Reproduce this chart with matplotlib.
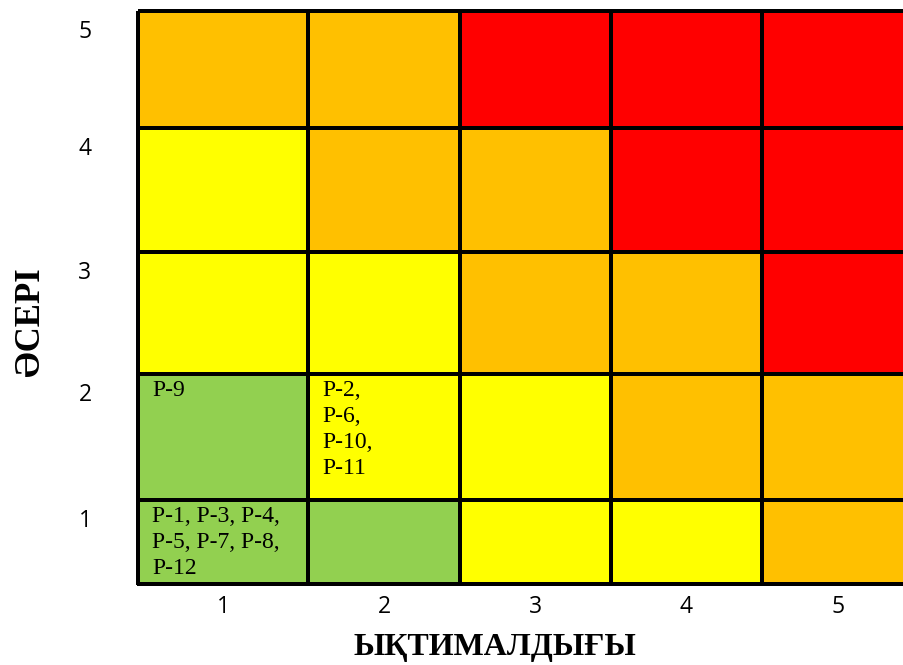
import numpy as np
import matplotlib.pyplot as plt
from matplotlib.colors import ListedColormap

# risk matrix: rows are impact 5..1 (top to bottom), columns likelihood 1..5
likelihood = [1, 2, 3, 4, 5]
impact = [5, 4, 3, 2, 1]
risk_level = [
    [3, 3, 4, 4, 4],
    [2, 3, 3, 4, 4],
    [2, 2, 3, 3, 4],
    [1, 2, 2, 3, 3],
    [1, 1, 2, 2, 3],
]
level_colors = ["#92D050", "#FFFF00", "#FFC000", "#FF0000"]

# risks placed in cells: (likelihood, impact, text)
cell_likelihood = [1, 2, 1]
cell_impact = [2, 2, 1]
cell_text = ["P-9", "P-2,\nP-6,\nP-10,\nP-11", "P-1, P-3, P-4,\nP-5, P-7, P-8,\nP-12"]

x_title = "ЫҚТИМАЛДЫҒЫ"
y_title = "ӘСЕРІ"

# table layout (cells are not all the same size, like the original sheet)
col_widths = [170, 152, 151, 151, 152]
row_heights = [117, 124, 122, 126, 84]

x_edges = np.concatenate([[0], np.cumsum(col_widths)])
y_edges = np.concatenate([[0], np.cumsum(row_heights)])

W, H = 904, 665
fig = plt.figure(figsize=(W / 100, H / 100), dpi=100)
left, top = 138, 11
ax = fig.add_axes([left / W, (H - top - y_edges[-1]) / H, x_edges[-1] / W, y_edges[-1] / H])

cmap = ListedColormap(level_colors)
mesh = ax.pcolormesh(x_edges, y_edges, np.array(risk_level), cmap=cmap, vmin=0.5, vmax=4.5,
                     edgecolors="black", linewidth=1.6)
mesh.set_clip_on(False)
ax.set_xlim(x_edges[0], x_edges[-1])
ax.set_ylim(y_edges[-1], y_edges[0])
for s in ax.spines.values():
    s.set_visible(False)

x_centers = (x_edges[:-1] + x_edges[1:]) / 2
ax.set_xticks(x_centers)
ax.set_xticklabels([str(v) for v in likelihood], fontsize=16.5, family="Open Sans")
ax.tick_params(axis="x", length=0, pad=8)
ax.set_yticks([])

# y tick labels sit near the top of each row
for i, v in enumerate(impact):
    ax.text(-53, y_edges[i] + 21, str(v), ha="center", va="center",
            fontsize=16.5, family="Open Sans", clip_on=False)

serif = ["Liberation Serif", "DejaVu Serif"]
for lk, im, txt in zip(cell_likelihood, cell_impact, cell_text):
    ci = likelihood.index(lk)
    ri = impact.index(im)
    ax.text(x_edges[ci] + 14, y_edges[ri] + 6, txt, ha="left", va="top",
            fontsize=17, family=serif, linespacing=1.32)

fig.text(495 / W, 1 - 648 / H, x_title, ha="center", va="center",
         fontsize=23, fontweight="bold", family=serif)
fig.text(30 / W, 1 - 322 / H, y_title, ha="center", va="center", rotation=90,
         fontsize=25, fontweight="bold", family=serif)

fig.savefig("out.png", dpi=100)
